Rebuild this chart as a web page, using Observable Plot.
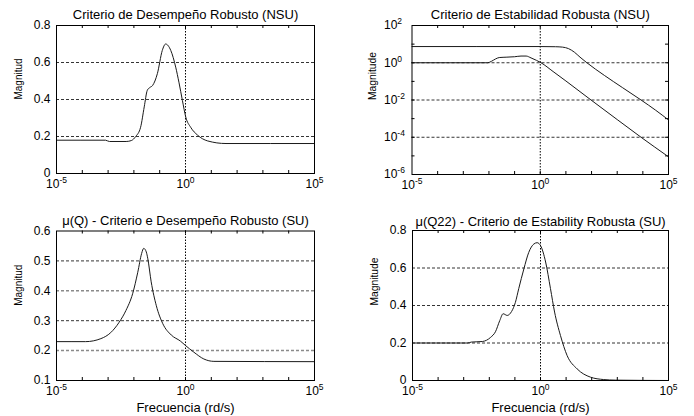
<!DOCTYPE html>
<html><head><meta charset="utf-8">
<script src="https://cdn.jsdelivr.net/npm/d3@7"></script>
<script src="https://cdn.jsdelivr.net/npm/@observablehq/plot@0.6"></script>
<style>
body{margin:0;background:#fff;}
#root{position:relative;width:694px;height:416px;font-family:"Liberation Sans",Arial,sans-serif;overflow:hidden;}
#root > div{position:absolute;}
svg{overflow:visible;}
</style></head><body><div id="root"></div>
<script>
// ---- shared axis values ----
const xTickValues = [1e-5, 1, 1e5];
const xDecades = [1e-4, 1e-3, 1e-2, 1e-1, 1, 1e1, 1e2, 1e3, 1e4];
const xLabel = "Frecuencia (rd/s)";

// ---- panel 1: Criterio de Desempeño Robusto (NSU) ----
const p1Title = "Criterio de Desempeño Robusto (NSU)";
const p1YLabel = "Magnitud";
const p1YTicks = [0, 0.2, 0.4, 0.6, 0.8];
const p1LogW = [-5, -3.1, -2.95, -2.3, -2.1, -1.93, -1.74, -1.6, -1.48, -1.38, -1.28, -1.09, -0.9, -0.77, -0.57, -0.38, -0.25, -0.12, 0.01, 0.2, 0.47, 0.86, 1.57, 5];
const p1Mag  = [0.18, 0.18, 0.173, 0.173, 0.178, 0.2, 0.25, 0.36, 0.45, 0.465, 0.475, 0.54, 0.665, 0.70, 0.665, 0.575, 0.49, 0.395, 0.305, 0.25, 0.207, 0.176, 0.162, 0.162];

// ---- panel 2: Criterio de Estabilidad Robusta (NSU) ----
const p2Title = "Criterio de Estabilidad Robusta (NSU)";
const p2YLabel = "Magnitude";
const p2YTicks = [1e-6, 1e-4, 1e-2, 1, 1e2];
const p2YDecades = [1e-5, 1e-4, 1e-3, 1e-2, 1e-1, 1, 1e1];
const p2UpperLogW = [-5, 0, 0.6, 0.87, 1.1, 1.33, 1.55, 1.79, 2.5, 3.2, 3.93, 4.5, 5];
const p2UpperMag  = [7.4, 7.4, 7.25, 6.9, 5.75, 3.7, 2.0, 1.07, 0.209, 0.0468, 0.01, 0.00282, 0.00085];
const p2LowerLogW = [-5, -2.05, -1.9, -1.75, -1.6, -1.3, -1.0, -0.75, -0.55, -0.36, -0.15, 0.03, 0.5, 1.0, 1.98, 3.0, 3.93, 5];
const p2LowerMag  = [1, 1, 1.2, 1.58, 1.9, 2.0, 2.1, 2.29, 2.29, 1.82, 1.35, 1.0, 0.339, 0.105, 0.01, 0.00089, 0.0001, 0.0000089];

// ---- panel 3: μ(Q) - Criterio e Desempeño Robusto (SU) ----
const p3Title = "μ(Q) - Criterio e Desempeño Robusto (SU)";
const p3YLabel = "Magnitud";
const p3YTicks = [0.1, 0.2, 0.3, 0.4, 0.5, 0.6];
const p3LogW = [-5, -3.87, -3.28, -2.9, -2.57, -2.31, -2.05, -1.85, -1.7, -1.62, -1.52, -1.46, -1.33, -1.13, -0.88, -0.55, -0.2, 0, 0.32, 0.71, 1.1, 5];
const p3Mag  = [0.23, 0.23, 0.24, 0.26, 0.295, 0.334, 0.39, 0.462, 0.525, 0.542, 0.53, 0.507, 0.43, 0.35, 0.29, 0.252, 0.232, 0.217, 0.195, 0.172, 0.164, 0.163];

// ---- panel 4: μ(Q22) - Criterio de Estability Robusta (SU) ----
const p4Title = "μ(Q22) - Criterio de Estability Robusta (SU)";
const p4YLabel = "Magnitude";
const p4YTicks = [0, 0.2, 0.4, 0.6, 0.8];
const p4LogW = [-5, -2.85, -2.7, -2.27, -1.95, -1.76, -1.59, -1.46, -1.30, -1.13, -0.98, -0.85, -0.65, -0.46, -0.26, -0.13, 0, 0.2, 0.39, 0.55, 0.78, 1.04, 1.43, 1.95, 2.47, 2.93, 5];
const p4Mag  = [0.2, 0.2, 0.205, 0.208, 0.23, 0.26, 0.32, 0.356, 0.347, 0.368, 0.417, 0.49, 0.595, 0.683, 0.728, 0.735, 0.72, 0.632, 0.49, 0.365, 0.24, 0.133, 0.062, 0.018, 0.005, 0.002, 0];

const toRows = (lw, m) => lw.map((e, i) => ({w: Math.pow(10, e), m: m[i]}));
const powFmt = d => "10^" + Math.round(Math.log10(d));

function panel(cfg) {
  const W = 347, H = 208;
  const fh = H - cfg.mt - cfg.mb, fw = W - cfg.ml - cfg.mr;
  const gridBlack = cfg.yTicks.slice(1, -1).filter(v => !(cfg.greyGrid || []).includes(v));
  const marks = [
    Plot.ruleY(gridBlack, {stroke: "#000", strokeWidth: 0.8, strokeDasharray: "3,2"}),
    Plot.ruleY(cfg.greyGrid || [], {stroke: "#8a8a8a", strokeWidth: 1.5, strokeDasharray: "3,2"}),
    Plot.ruleX([1], {stroke: "#000", strokeWidth: 1, strokeDasharray: "1.5,1.5"}),
    Plot.tickX(xDecades, {insetTop: fh - 3, stroke: "#000"}),
    Plot.tickX(xDecades, {insetBottom: fh - 3, stroke: "#000"})
  ];
  if (cfg.yMinor) {
    marks.push(Plot.tickY(cfg.yMinor, {insetRight: fw - 3, stroke: "#000"}));
    marks.push(Plot.tickY(cfg.yMinor, {insetLeft: fw - 3, stroke: "#000"}));
  }
  for (const s of cfg.series) {
    marks.push(Plot.line(s, {x: "w", y: "m", stroke: "#1a1a1a", strokeWidth: 1, curve: "monotone-x"}));
  }
  marks.push(Plot.frame({stroke: "#000", strokeWidth: 1}));
  marks.push(Plot.axisX(xTickValues, {tickSize: 0, tickPadding: 6, fontSize: 12, tickFormat: powFmt, label: null}));
  marks.push(Plot.axisY(cfg.yTicks, cfg.yLog
    ? {tickSize: 0, tickPadding: 28, textAnchor: "start", fontSize: 12, tickFormat: powFmt, label: null}
    : {tickSize: 0, tickPadding: 6, fontSize: 12, tickFormat: d => String(d), label: null}));
  marks.push(Plot.text([cfg.title], {text: d => d, frameAnchor: "top", dy: cfg.titleDy, fontSize: 13, lineAnchor: "middle", fill: "#000"}));
  marks.push(Plot.text([cfg.yLabel], {text: d => d, frameAnchor: "left", rotate: -90, dx: cfg.yLabelDx, fontSize: 11, lineAnchor: "middle", fill: "#000"}));
  if (cfg.xLabel) marks.push(Plot.text([cfg.xLabel], {text: d => d, frameAnchor: "bottom", dy: 27, fontSize: 13, lineAnchor: "middle", fill: "#000"}));

  const svg = Plot.plot({
    width: W, height: H,
    marginLeft: cfg.ml, marginRight: cfg.mr, marginTop: cfg.mt, marginBottom: cfg.mb,
    style: {fontFamily: '"Liberation Sans", Arial, sans-serif', color: "#000", background: "transparent", overflow: "visible"},
    x: {type: "log", domain: [1e-5, 1e5], label: null},
    y: cfg.yLog ? {type: "log", domain: cfg.yDomain, label: null} : {domain: cfg.yDomain, label: null},
    marks
  });
  // superscript exponents
  svg.querySelectorAll('g[aria-label$="tick label"] text').forEach(t => {
    const s = t.textContent;
    if (!s.includes("^")) return;
    const [base, ex] = s.split("^");
    t.textContent = base;
    const ts = document.createElementNS("http://www.w3.org/2000/svg", "tspan");
    ts.setAttribute("dy", "-5");
    ts.setAttribute("font-size", "8.5");
    ts.textContent = ex;
    t.appendChild(ts);
  });
  svg.querySelectorAll("text").forEach(t => {
    if (t.textContent === "Magnitud") { t.setAttribute("textLength", "41"); t.setAttribute("lengthAdjust", "spacingAndGlyphs"); }
    if (t.textContent === "Magnitude") { t.setAttribute("textLength", "48"); t.setAttribute("lengthAdjust", "spacingAndGlyphs"); }
  });
  const div = document.createElement("div");
  div.style.left = cfg.left + "px";
  div.style.top = cfg.top + "px";
  div.appendChild(svg);
  document.getElementById("root").appendChild(div);
}

panel({left: 0, top: 0, ml: 56, mr: 33, mt: 25, mb: 35, title: p1Title, titleDy: -11, yLabel: p1YLabel, yLabelDx: -38,
  yDomain: [0, 0.8], yTicks: p1YTicks, series: [toRows(p1LogW, p1Mag)]});
panel({left: 347, top: 0, ml: 64.5, mr: 26, mt: 25, mb: 34, title: p2Title, titleDy: -11, yLabel: p2YLabel, yLabelDx: -39.5,
  yLog: true, yDomain: [1e-6, 1e2], yTicks: p2YTicks, yMinor: p2YDecades,
  series: [toRows(p2UpperLogW, p2UpperMag), toRows(p2LowerLogW, p2LowerMag)]});
panel({left: 0, top: 208, ml: 56, mr: 33, mt: 22.5, mb: 36, title: p3Title, titleDy: -10, yLabel: p3YLabel, yLabelDx: -38,
  yDomain: [0.1, 0.6], yTicks: p3YTicks, greyGrid: [0.2, 0.4], xLabel: xLabel, series: [toRows(p3LogW, p3Mag)]});
panel({left: 347, top: 208, ml: 65, mr: 26, mt: 22, mb: 36, title: p4Title, titleDy: -9, yLabel: p4YLabel, yLabelDx: -38.3,
  yDomain: [0, 0.8], yTicks: p4YTicks, xLabel: xLabel, series: [toRows(p4LogW, p4Mag)]});
</script>
</body></html>
